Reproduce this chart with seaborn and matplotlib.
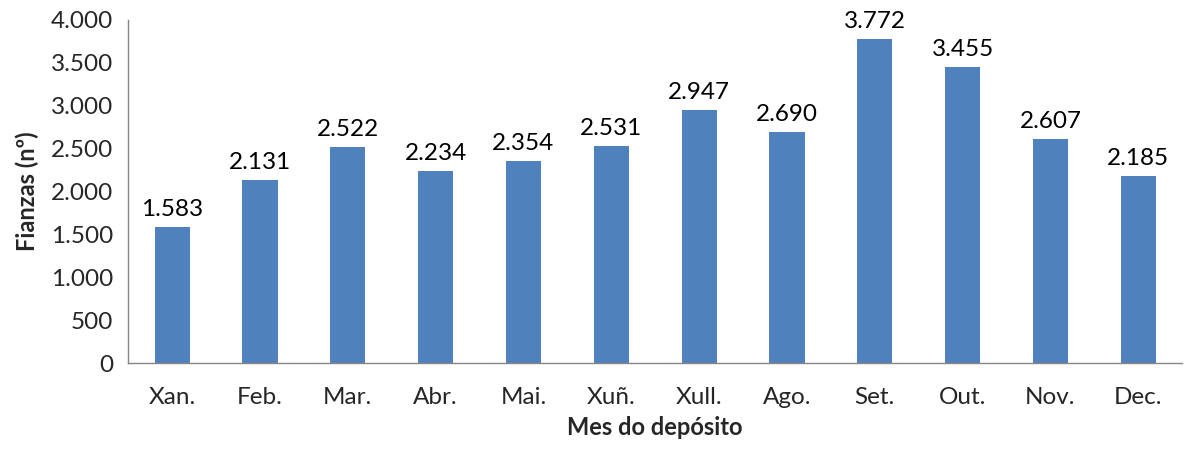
import numpy as np
import pandas as pd
import matplotlib
matplotlib.use("Agg")
import matplotlib.pyplot as plt
import seaborn as sns

# Data
meses = ["Xan.", "Feb.", "Mar.", "Abr.", "Mai.", "Xuñ.", "Xull.", "Ago.", "Set.", "Out.", "Nov.", "Dec."]
fianzas = [1583, 2131, 2522, 2234, 2354, 2531, 2947, 2690, 3772, 3455, 2607, 2185]
yticks = [0, 500, 1000, 1500, 2000, 2500, 3000, 3500, 4000]

df = pd.DataFrame({"mes": meses, "fianzas": fianzas})

sns.set_theme(style="white")
plt.rcParams["font.family"] = ["Lato", "DejaVu Sans"]


def fmt(v):
    return f"{v:,}".replace(",", ".")


fig = plt.figure(figsize=(11.87, 4.5), dpi=100)
ax = fig.add_axes([0.108, 0.193, 0.888, 0.763])

sns.barplot(data=df, x="mes", y="fianzas", color="#4F81BD", saturation=1,
            width=0.4, linewidth=0, ax=ax)

for i, v in enumerate(fianzas):
    ax.annotate(fmt(v), (i, v), xytext=(0, 5), textcoords="offset points",
                ha="center", va="bottom", fontsize=17.5, color="black")

ax.set_ylim(0, 4000)
ax.set_xlim(-0.5, len(meses) - 0.5)
ax.set_yticks(yticks)
ax.set_yticklabels([fmt(t) for t in yticks], fontsize=17.5)
ax.tick_params(axis="x", which="major", length=0, labelsize=17.5, pad=17)
ax.set_xticks(np.arange(-0.5, len(meses)), minor=True)
ax.tick_params(axis="x", which="minor", length=8, color="#868686", width=1, direction="out")
ax.tick_params(axis="y", length=7, color="#868686", width=1, direction="out", pad=4)

for s in ["top", "right"]:
    ax.spines[s].set_visible(False)
for s in ["left", "bottom"]:
    ax.spines[s].set_color("#868686")
    ax.spines[s].set_linewidth(1)

ax.set_xlabel("Mes do depósito", fontsize=17, fontweight="bold", labelpad=6)
ax.set_ylabel("Fianzas (nº)", fontsize=17, fontweight="bold", labelpad=8)

fig.savefig("out.png", dpi=100)
